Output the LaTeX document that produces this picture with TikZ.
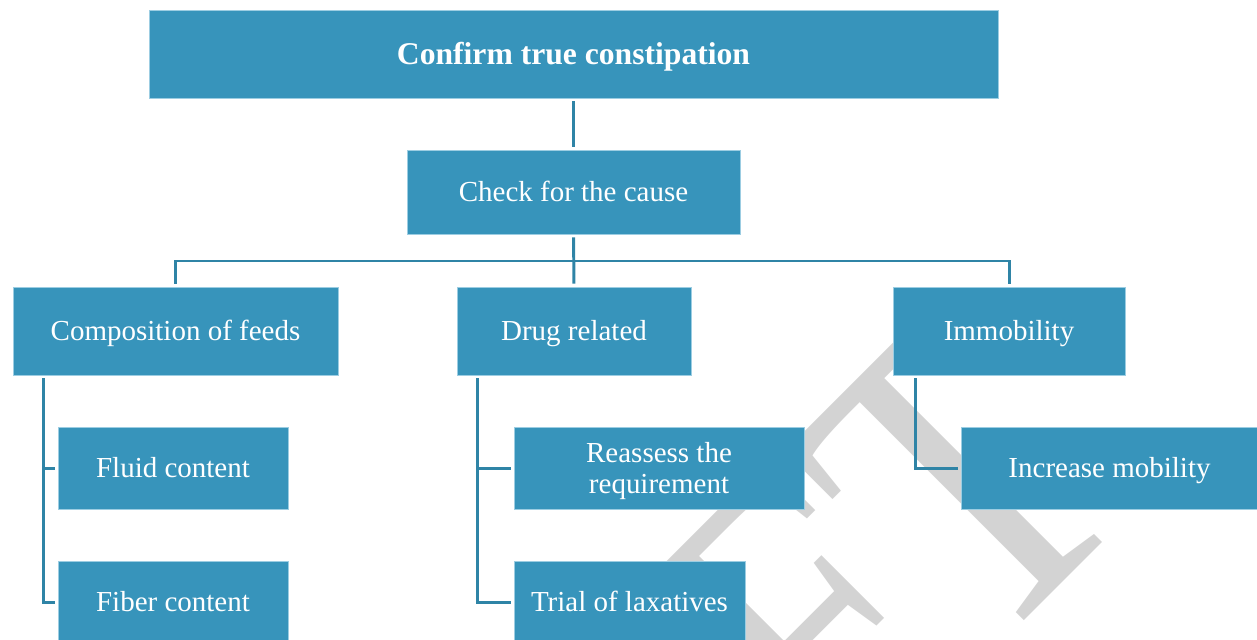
\documentclass[tikz,border=0pt]{standalone}
\usepackage{fontspec}
\setmainfont{Liberation Serif}
\usepackage{tikz}
\usetikzlibrary{calc,positioning}
\definecolor{boxblue}{HTML}{3794BB}
\definecolor{boxedge}{HTML}{9CCDE2}
\definecolor{linkblue}{HTML}{2F84A6}
\definecolor{wmgray}{HTML}{D3D3D3}
\tikzset{
    stepbox/.style={rectangle,
            fill=boxblue,
            draw=boxedge,
            line width=0.5pt,
            text=white,
            inner sep=0pt,
            align=center,
            font=\fontsize{16.5}{17.8}\selectfont},
    linebox/.style={stepbox,
            text height=11.2pt,
            text depth=0.3pt},
    headbox/.style={linebox,
            text height=12.2pt,
            font=\fontsize{18}{20}\selectfont\bfseries},
    wmletter/.style={text=wmgray,
            inner sep=0pt,
            rotate=45,
            xscale=0.83,
            font=\fontsize{251}{251}\selectfont},
    link/.style={draw=linkblue,
            line width=1.7pt,
            shorten <=1.7pt,
            shorten >=1.7pt},
}

\begin{document}
\begin{tikzpicture}[x=0.02cm,y=0.02cm]
\useasboundingbox (0,0) rectangle (1257,-639);
\clip (0,0) rectangle (1257,-639);
\node[wmletter, anchor=base] (tletter) at (1063.5,-581.5) {T};
\node[wmletter, anchor=base east] (fletter) at ([shift={(-4,4)}]tletter.base west) {F};
\node[headbox, minimum width=849*0.02cm, minimum height=88*0.02cm] (confirm) at (573.5,-54) {Confirm true constipation};
\node[linebox, minimum width=333*0.02cm, minimum height=84*0.02cm] (cause) at (573.5,-192) {Check for the cause};
\node[linebox, minimum width=325*0.02cm, minimum height=88*0.02cm] (feeds) at (175.5,-331) {Composition of feeds};
\node[linebox, minimum width=234*0.02cm, minimum height=88*0.02cm] (drug) at (574,-331) {Drug related};
\node[linebox, minimum width=232*0.02cm, minimum height=88*0.02cm] (immob) at (1009,-331) {Immobility};
\node[linebox, minimum width=230*0.02cm, minimum height=82*0.02cm] (fluid) at (173,-468) {Fluid content};
\node[linebox, minimum width=230*0.02cm, minimum height=82*0.02cm] (fiber) at (173,-602) {Fiber content};
\node[stepbox, text depth=0pt, minimum width=290*0.02cm, minimum height=82*0.02cm] (reassess) at (659,-468) {Reassess the\\requirement};
\node[linebox, minimum width=231*0.02cm, minimum height=82*0.02cm] (trial) at (629.5,-602) {Trial of laxatives};
\node[linebox, minimum width=297*0.02cm, minimum height=82*0.02cm] (mobility) at (1109.5,-468) {Increase mobility};
\coordinate (bus) at (573.5,-261);
\draw[link] (confirm) -- (cause);
\draw[link] (cause) -- (drug);
\draw[link] (feeds.north) |- (bus) -| (immob.north);
\draw[link] ([xshift=31*0.02cm]feeds.south west) |- (fluid.west);
\draw[link] ([xshift=31*0.02cm]feeds.south west) |- (fiber.west);
\draw[link] ([xshift=21*0.02cm]drug.south west) |- (reassess.west);
\draw[link] ([xshift=21*0.02cm]drug.south west) |- (trial.west);
\draw[link] ([xshift=23*0.02cm]immob.south west) |- (mobility.west);
\end{tikzpicture}
\end{document}
